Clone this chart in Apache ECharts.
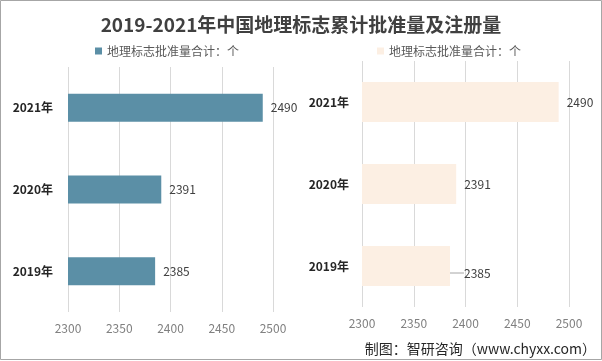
<!DOCTYPE html>
<html><head><meta charset="utf-8">
<script src="https://cdn.jsdelivr.net/npm/echarts@6/dist/echarts.min.js"></script>
<style>html,body{margin:0;padding:0;background:#fff}#c{width:602px;height:361px}</style>
</head><body><div id="c"></div>
<script>
const categories = ['2019年', '2020年', '2021年'];
const approvedValues = [2385, 2391, 2490];
const registeredValues = [2385, 2391, 2490];
const xTicks = [2300, 2350, 2400, 2450, 2500];
const titleText = '2019-2021年中国地理标志累计批准量及注册量';
const legendText = '地理标志批准量合计：个';
const sourceText = '制图：智研咨询（www.chyxx.com）';

const font = '"Noto Sans CJK SC", "Noto Sans", sans-serif';
const chart = echarts.init(document.getElementById('c'));
const xAxisBase = (gi) => ({
  type: 'value', gridIndex: gi, min: xTicks[0], max: xTicks[xTicks.length - 1], interval: 50,
  axisLine: {show: false}, axisTick: {show: false},
  splitLine: {lineStyle: {color: '#d9d9d9', width: 1}},
  axisLabel: {color: '#808080', fontSize: 12, fontFamily: font, margin: 10, formatter: (v) => String(v)}
});
const yAxisBase = (gi, m) => ({
  type: 'category', gridIndex: gi, data: categories,
  axisLine: {show: false}, axisTick: {show: false},
  axisLabel: {color: '#262626', fontSize: 12, fontWeight: 'bold', fontFamily: font, margin: m}
});
const registeredData = registeredValues.map((v, i) =>
  i === 0 ? {value: v, labelLine: {show: true}} : {value: v, labelLine: {show: false}});
chart.setOption({
  backgroundColor: '#fff',
  animation: false,
  title: {text: titleText, left: 'center', top: 10,
    textStyle: {fontSize: 19, fontWeight: 'bold', color: '#404040', fontFamily: font}},
  legend: [
    {data: ['批准量'], left: 90, top: 40, itemWidth: 7, itemHeight: 7, itemGap: 4,
     icon: 'rect', formatter: () => legendText,
     textStyle: {color: '#595959', fontSize: 12, fontFamily: font}},
    {data: ['注册量'], left: 372, top: 40, itemWidth: 7, itemHeight: 7, itemGap: 4,
     icon: 'rect', formatter: () => legendText,
     textStyle: {color: '#595959', fontSize: 12, fontFamily: font}}
  ],
  grid: [
    {left: 68, right: 329, top: 67, bottom: 49},
    {left: 362, right: 33, top: 61, bottom: 54}
  ],
  xAxis: [xAxisBase(0), xAxisBase(1)],
  yAxis: [yAxisBase(0, 15), yAxisBase(1, 13)],
  series: [
    {name: '批准量', type: 'bar', xAxisIndex: 0, yAxisIndex: 0, data: approvedValues,
     barWidth: 28, itemStyle: {color: '#5b8fa6'},
     label: {show: true, position: 'right', distance: 8, color: '#404040', fontSize: 12, fontFamily: font}},
    {name: '注册量', type: 'bar', xAxisIndex: 1, yAxisIndex: 1, data: registeredData,
     barWidth: 40, itemStyle: {color: '#fcefe3'},
     label: {show: true, position: 'right', distance: 8, color: '#404040', fontSize: 12, fontFamily: font},
     labelLine: {show: false, lineStyle: {color: '#a6a6a6', width: 1}},
     labelLayout: (p) => p.dataIndex === 0 ? {dx: 6, dy: 7} : {}}
  ],
  graphic: [
    {type: 'rect', shape: {x: 0.5, y: 0.5, width: 601, height: 359},
     style: {fill: 'none', stroke: '#a6a6a6', lineWidth: 1}, silent: true},
    {type: 'text', right: 6, bottom: 5,
     style: {text: sourceText, fill: '#262626', fontSize: 14, fontFamily: font}}
  ]
});
</script></body></html>
